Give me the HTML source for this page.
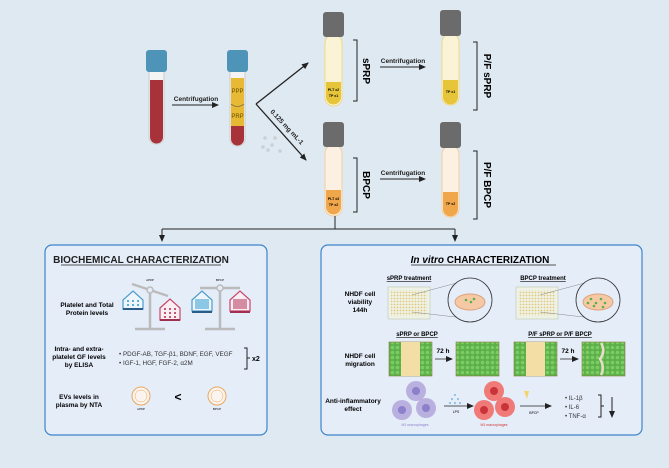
<!DOCTYPE html>
<html><head><meta charset="utf-8"><style>
html,body{margin:0;padding:0;background:#dfe9f2;}
svg{display:block;font-family:"Liberation Sans",sans-serif;}
</style></head><body>
<svg width="669" height="468" viewBox="0 0 669 468" xmlns="http://www.w3.org/2000/svg">
<defs>
<marker id="ah" markerWidth="8" markerHeight="8" refX="6" refY="4" orient="auto" markerUnits="userSpaceOnUse"><path d="M0,1 L7,4 L0,7 z" fill="#222"/></marker>
<pattern id="dots" width="3" height="3" patternUnits="userSpaceOnUse"><circle cx="1.5" cy="1.5" r="0.9" fill="#e0c878"/></pattern>
<pattern id="cells" width="5" height="5" patternUnits="userSpaceOnUse"><rect width="5" height="5" fill="#5cb04a"/><circle cx="2.5" cy="2.5" r="1.8" fill="#7ccc63"/></pattern>
</defs>
<rect width="669" height="468" fill="#dfe9f2"/>

<rect x="149" y="60" width="15" height="84" rx="7" fill="#f4f4f4" stroke="#ccc"/>
<path d="M150,80 h13 v57 a6.5,6.5 0 0 1 -13,0 z" fill="#a8323a"/>
<rect x="146" y="50" width="21" height="22" rx="3" fill="#4e94b8"/>
<rect x="230" y="60" width="15" height="86" rx="7" fill="#f4f4f4" stroke="#ccc"/>
<rect x="231" y="78" width="13" height="48" fill="#e7b934"/>
<path d="M231,126 h13 v13 a6.5,6.5 0 0 1 -13,0 z" fill="#a8323a"/>
<path d="M231,104 q6.5,5 13,0" stroke="#555" fill="none" stroke-width="0.6"/>
<rect x="227" y="50" width="21" height="22" rx="3" fill="#4e94b8"/>
<text x="237.5" y="93" font-size="6" text-anchor="middle" fill="#6b4e00">PPP</text>
<text x="237.5" y="118" font-size="6" text-anchor="middle" fill="#6b4e00">PRP</text>

<text x="196" y="101" font-size="6.5" font-weight="bold" text-anchor="middle" fill="#222">Centrifugation</text>
<line x1="172" y1="105" x2="218" y2="105" stroke="#222" stroke-width="1" marker-end="url(#ah)"/>

<line x1="256" y1="104" x2="308" y2="63" stroke="#222" stroke-width="1.3" marker-end="url(#ah)"/>
<line x1="256" y1="104" x2="306" y2="160" stroke="#222" stroke-width="1.3" marker-end="url(#ah)"/>
<text x="270" y="112" font-size="6.5" font-weight="bold" fill="#222" transform="rotate(47 270 112)">0.125 mg mL-1</text>
<g fill="#c9d0d6"><circle cx="265" cy="138" r="1.8"/><circle cx="275" cy="138" r="1.8"/><circle cx="263" cy="147" r="1.8"/><circle cx="272" cy="145" r="1.8"/><circle cx="280" cy="151" r="1.8"/><circle cx="268" cy="150" r="1.8"/></g>

<rect x="325" y="35" width="17" height="71" rx="8" fill="#fbf3d6" stroke="#efd98a"/>
<path d="M326,82 h15 v15 a7.5,7.5 0 0 1 -15,0 z" fill="#e6c53a"/>
<rect x="323" y="12" width="21" height="25" rx="3" fill="#6b6b6b"/>
<text x="333.5" y="91" font-size="3.5" font-weight="bold" text-anchor="middle">PLT x2</text>
<text x="333.5" y="97" font-size="3.5" font-weight="bold" text-anchor="middle">TP x1</text>
<path d="M353,40 h4 v61 h-4" stroke="#222" fill="none"/>
<text x="363" y="71" font-size="10" font-weight="bold" transform="rotate(90 363 71)" text-anchor="middle">sPRP</text>
<rect x="325" y="145" width="17" height="71" rx="8" fill="#fbf0e2" stroke="#f3cfa0"/>
<path d="M326,190 h15 v17 a7.5,7.5 0 0 1 -15,0 z" fill="#f0a64a"/>
<rect x="323" y="122" width="21" height="25" rx="3" fill="#6b6b6b"/>
<text x="333.5" y="200" font-size="3.5" font-weight="bold" text-anchor="middle">PLT x3</text>
<text x="333.5" y="206" font-size="3.5" font-weight="bold" text-anchor="middle">TP x2</text>
<path d="M353,158 h4 v54 h-4" stroke="#222" fill="none"/>
<text x="363" y="185" font-size="10" font-weight="bold" transform="rotate(90 363 185)" text-anchor="middle">BPCP</text>

<text x="403" y="63" font-size="6.5" font-weight="bold" text-anchor="middle" fill="#222">Centrifugation</text>
<line x1="380" y1="67" x2="425" y2="67" stroke="#222" marker-end="url(#ah)"/>
<text x="403" y="175" font-size="6.5" font-weight="bold" text-anchor="middle" fill="#222">Centrifugation</text>
<line x1="380" y1="179" x2="425" y2="179" stroke="#222" marker-end="url(#ah)"/>

<rect x="442" y="34" width="17" height="71" rx="8" fill="#fbf3d6" stroke="#efd98a"/>
<path d="M443,80 h15 v17 a7.5,7.5 0 0 1 -15,0 z" fill="#e6c53a"/>
<rect x="440" y="10" width="21" height="26" rx="3" fill="#6b6b6b"/>
<text x="450.5" y="93" font-size="3.5" font-weight="bold" text-anchor="middle">TP x1</text>
<path d="M473,42 h4 v68 h-4" stroke="#222" fill="none"/>
<text x="484" y="76" font-size="10" font-weight="bold" transform="rotate(90 484 76)" text-anchor="middle">P/F sPRP</text>
<rect x="442" y="146" width="17" height="71" rx="8" fill="#fbf0e2" stroke="#f3cfa0"/>
<path d="M443,192 h15 v17 a7.5,7.5 0 0 1 -15,0 z" fill="#f0a64a"/>
<rect x="440" y="122" width="21" height="26" rx="3" fill="#6b6b6b"/>
<text x="450.5" y="205" font-size="3.5" font-weight="bold" text-anchor="middle">TP x2</text>
<path d="M473,151 h4 v68 h-4" stroke="#222" fill="none"/>
<text x="484" y="185" font-size="10" font-weight="bold" transform="rotate(90 484 185)" text-anchor="middle">P/F BPCP</text>

<line x1="335" y1="216" x2="335" y2="229" stroke="#222"/>
<line x1="162" y1="229" x2="455" y2="229" stroke="#222"/>
<line x1="162" y1="229" x2="162" y2="241" stroke="#222" marker-end="url(#ah)"/>
<line x1="455" y1="229" x2="455" y2="241" stroke="#222" marker-end="url(#ah)"/>

<rect x="45" y="245" width="222" height="190" rx="7" fill="#e5edf9" stroke="#3d84cc" stroke-width="1.2"/>
<text x="141" y="263" font-size="10" font-weight="bold" text-anchor="middle" fill="#222">BIOCHEMICAL CHARACTERIZATION</text>
<line x1="61" y1="265" x2="221" y2="265" stroke="#222" stroke-width="0.8"/>
<text x="87" y="307" font-size="6.5" font-weight="bold" text-anchor="middle">Platelet and Total</text>
<text x="87" y="315" font-size="6.5" font-weight="bold" text-anchor="middle">Protein levels</text>
<g stroke="#bbb" stroke-width="2.5" fill="none"><line x1="150" y1="290" x2="150" y2="328"/><line x1="135" y1="329" x2="165" y2="329"/><line x1="132" y1="284" x2="168" y2="296"/></g>
<circle cx="150" cy="290" r="3" fill="#e5edf9" stroke="#bbb" stroke-width="1.5"/>
<text x="150" y="281" font-size="3" text-anchor="middle">sPRP</text>
<path d="M123,300 l10,-9 l10,9 v9 h-20z" fill="#eef6fb" stroke="#4a9bcb" stroke-width="1.2"/><rect x="123" y="308" width="20" height="2" fill="#2b5d87"/>
<path d="M160,308 l10,-9 l10,9 v12 h-20z" fill="#fbeef2" stroke="#c8456a" stroke-width="1.2"/><rect x="160" y="319" width="20" height="2" fill="#a03050"/>
<g fill="#2a98d0"><circle cx="128" cy="301" r="1"/><circle cx="133" cy="301" r="1"/><circle cx="138" cy="301" r="1"/><circle cx="128" cy="305" r="1"/><circle cx="133" cy="305" r="1"/><circle cx="138" cy="305" r="1"/></g>
<g fill="#b02850"><circle cx="165" cy="309" r="1"/><circle cx="170" cy="309" r="1"/><circle cx="175" cy="309" r="1"/><circle cx="165" cy="313" r="1"/><circle cx="170" cy="313" r="1"/><circle cx="175" cy="313" r="1"/><circle cx="165" cy="317" r="1"/><circle cx="170" cy="317" r="1"/><circle cx="175" cy="317" r="1"/></g>
<g stroke="#bbb" stroke-width="2.5" fill="none"><line x1="220" y1="288" x2="220" y2="328"/><line x1="205" y1="329" x2="235" y2="329"/><line x1="200" y1="288" x2="240" y2="288"/></g>
<circle cx="220" cy="288" r="3" fill="#e5edf9" stroke="#bbb" stroke-width="1.5"/>
<text x="220" y="281" font-size="3" text-anchor="middle">BPCP</text>
<path d="M192,300 l10,-9 l10,9 v11 h-20z" fill="#eef6fb" stroke="#4a9bcb" stroke-width="1.2"/><rect x="192" y="311" width="20" height="2" fill="#2b5d87"/>
<path d="M230,300 l10,-9 l10,9 v11 h-20z" fill="#fbeef2" stroke="#c8456a" stroke-width="1.2"/><rect x="230" y="311" width="20" height="2" fill="#a03050"/>
<rect x="195" y="299" width="14" height="10" fill="#2a98d0" opacity="0.5"/>
<rect x="233" y="299" width="14" height="10" fill="#b02850" opacity="0.5"/>

<text x="79" y="351" font-size="6.5" font-weight="bold" text-anchor="middle">Intra- and extra-</text>
<text x="79" y="359" font-size="6.5" font-weight="bold" text-anchor="middle">platelet GF levels</text>
<text x="79" y="367" font-size="6.5" font-weight="bold" text-anchor="middle">by ELISA</text>
<text x="119" y="356" font-size="6.3" fill="#333">•  PDGF-AB, TGF-β1, BDNF, EGF, VEGF</text>
<text x="119" y="365" font-size="6.3" fill="#333">•  IGF-1, HGF, FGF-2, α2M</text>
<path d="M244,348 h3 v21 h-3 M247,358 h3" stroke="#222" fill="none"/>
<text x="252" y="361" font-size="7" font-weight="bold">x2</text>
<text x="79" y="399" font-size="6.5" font-weight="bold" text-anchor="middle">EVs levels in</text>
<text x="79" y="407" font-size="6.5" font-weight="bold" text-anchor="middle">plasma by NTA</text>
<circle cx="141" cy="396" r="9" fill="#fbf4ee" stroke="#e9a860" stroke-width="1"/><circle cx="141" cy="396" r="6" fill="none" stroke="#e9a860" stroke-width="0.5"/>
<circle cx="217" cy="396" r="9" fill="#fbf4ee" stroke="#e9a860" stroke-width="1"/><circle cx="217" cy="396" r="6" fill="none" stroke="#e9a860" stroke-width="0.5"/>
<text x="141" y="410" font-size="3" text-anchor="middle">sPRP</text><text x="217" y="410" font-size="3" text-anchor="middle">BPCP</text>
<text x="178" y="401" font-size="12" font-weight="bold" text-anchor="middle">&lt;</text>

<rect x="321" y="245" width="321" height="190" rx="7" fill="#e5edf9" stroke="#3d84cc" stroke-width="1.2"/>
<text x="480" y="263" font-size="10" font-weight="bold" text-anchor="middle"><tspan font-style="italic">In vitro</tspan>  CHARACTERIZATION</text>
<line x1="411" y1="265" x2="556" y2="265" stroke="#222" stroke-width="0.8"/>
<text x="360" y="296" font-size="6.5" font-weight="bold" text-anchor="middle">NHDF cell</text>
<text x="360" y="304" font-size="6.5" font-weight="bold" text-anchor="middle">viability</text>
<text x="360" y="312" font-size="6.5" font-weight="bold" text-anchor="middle">144h</text>
<text x="409" y="280" font-size="6" font-weight="bold" text-anchor="middle" text-decoration="underline">sPRP treatment</text>
<text x="543" y="280" font-size="6" font-weight="bold" text-anchor="middle" text-decoration="underline">BPCP treatment</text>
<rect x="388" y="287" width="42" height="32" fill="#eef2e6" stroke="#cfd8c8"/><rect x="391" y="290" width="36" height="26" fill="url(#dots)"/>
<line x1="412" y1="295" x2="464" y2="281" stroke="#888" stroke-width="0.5"/><line x1="412" y1="312" x2="464" y2="318" stroke="#888" stroke-width="0.5"/>
<circle cx="470" cy="300" r="22" fill="#e5edf9" stroke="#333" stroke-width="0.8"/>
<ellipse cx="470" cy="302" rx="15" ry="8" fill="#f6c9a5" stroke="#dca07a"/>
<g fill="#5cb04a"><circle cx="466" cy="300" r="1.3"/><circle cx="471" cy="302" r="1.3"/><circle cx="474" cy="299" r="1.3"/></g>
<rect x="516" y="287" width="42" height="32" fill="#eef2e6" stroke="#cfd8c8"/><rect x="519" y="290" width="36" height="26" fill="url(#dots)"/>
<line x1="540" y1="295" x2="592" y2="281" stroke="#888" stroke-width="0.5"/><line x1="540" y1="312" x2="592" y2="318" stroke="#888" stroke-width="0.5"/>
<circle cx="598" cy="300" r="22" fill="#e5edf9" stroke="#333" stroke-width="0.8"/>
<ellipse cx="598" cy="302" rx="15" ry="8" fill="#f6c9a5" stroke="#dca07a"/>
<g fill="#5cb04a"><circle cx="591" cy="299" r="1.3"/><circle cx="596" cy="303" r="1.3"/><circle cx="601" cy="299" r="1.3"/><circle cx="605" cy="303" r="1.3"/><circle cx="594" cy="306" r="1.3"/><circle cx="603" cy="307" r="1.3"/><circle cx="588" cy="303" r="1.3"/></g>

<text x="360" y="358" font-size="6.5" font-weight="bold" text-anchor="middle">NHDF cell</text>
<text x="360" y="366" font-size="6.5" font-weight="bold" text-anchor="middle">migration</text>
<text x="417" y="336" font-size="6" font-weight="bold" text-anchor="middle" text-decoration="underline">sPRP or BPCP</text>
<text x="560" y="336" font-size="6" font-weight="bold" text-anchor="middle" text-decoration="underline">P/F sPRP or P/F BPCP</text>
<rect x="389" y="342" width="43" height="34" fill="url(#cells)" stroke="#8a7a40" stroke-width="0.6"/><rect x="401" y="342" width="19" height="34" fill="#f3dfa6"/>
<rect x="456" y="342" width="43" height="34" fill="url(#cells)" stroke="#8a7a40" stroke-width="0.6"/>
<rect x="514" y="342" width="43" height="34" fill="url(#cells)" stroke="#8a7a40" stroke-width="0.6"/><rect x="526" y="342" width="19" height="34" fill="#f3dfa6"/>
<rect x="582" y="342" width="43" height="34" fill="url(#cells)" stroke="#8a7a40" stroke-width="0.6"/>
<path d="M601,343 q5,8 -1,16 q5,8 1,16" stroke="#e8ddc8" stroke-width="2.5" fill="none"/>
<text x="443" y="353" font-size="6.5" font-weight="bold" text-anchor="middle">72 h</text>
<line x1="435" y1="359" x2="452" y2="359" stroke="#222" stroke-width="0.7" marker-end="url(#ah)"/>
<text x="568" y="353" font-size="6.5" font-weight="bold" text-anchor="middle">72 h</text>
<line x1="560" y1="359" x2="578" y2="359" stroke="#222" stroke-width="0.7" marker-end="url(#ah)"/>

<text x="353" y="403" font-size="6.5" font-weight="bold" text-anchor="middle">Anti-inflammatory</text>
<text x="353" y="411" font-size="6.5" font-weight="bold" text-anchor="middle">effect</text>
<g fill="#b9b0e0"><circle cx="416" cy="391" r="10"/><circle cx="402" cy="410" r="10"/><circle cx="426" cy="408" r="10"/></g>
<g fill="#8b80c9"><circle cx="416" cy="391" r="4"/><circle cx="402" cy="410" r="4"/><circle cx="426" cy="408" r="4"/></g>
<text x="415" y="426" font-size="3.5" fill="#8b80c9" text-anchor="middle">M1 macrophages</text>
<text x="456" y="413" font-size="3.5" text-anchor="middle">LPS</text>
<g fill="#5aa7d8"><circle cx="455" cy="395" r="0.9"/><circle cx="452" cy="399" r="0.9"/><circle cx="458" cy="399" r="0.9"/><circle cx="450" cy="403" r="0.9"/><circle cx="455" cy="403" r="0.9"/><circle cx="460" cy="403" r="0.9"/></g>
<line x1="444" y1="406" x2="473" y2="406" stroke="#222" stroke-width="0.7" marker-end="url(#ah)"/>
<g fill="#f07a78"><circle cx="494" cy="391" r="10"/><circle cx="484" cy="410" r="10"/><circle cx="505" cy="407" r="10"/></g>
<g fill="#c8343a"><circle cx="494" cy="391" r="4"/><circle cx="484" cy="410" r="4"/><circle cx="505" cy="407" r="4"/></g>
<text x="494" y="426" font-size="3.5" fill="#d03030" text-anchor="middle">M1 macrophages</text>
<path d="M524,391 l5,0 l-2,8 z" fill="#f3d36a"/>
<line x1="520" y1="406" x2="551" y2="406" stroke="#222" stroke-width="0.7" marker-end="url(#ah)"/>
<text x="534" y="414" font-size="3.5" text-anchor="middle">BPCP</text>
<text x="565" y="400" font-size="6" fill="#333">•  IL-1β</text>
<text x="565" y="409" font-size="6" fill="#333">•  IL-6</text>
<text x="565" y="418" font-size="6" fill="#333">•  TNF-α</text>
<path d="M598,395 h3 v22 h-3 M601,406 h3" stroke="#222" fill="none"/>
<line x1="612" y1="397" x2="612" y2="417" stroke="#222" stroke-width="1" marker-end="url(#ah)"/>
</svg>
</body></html>
